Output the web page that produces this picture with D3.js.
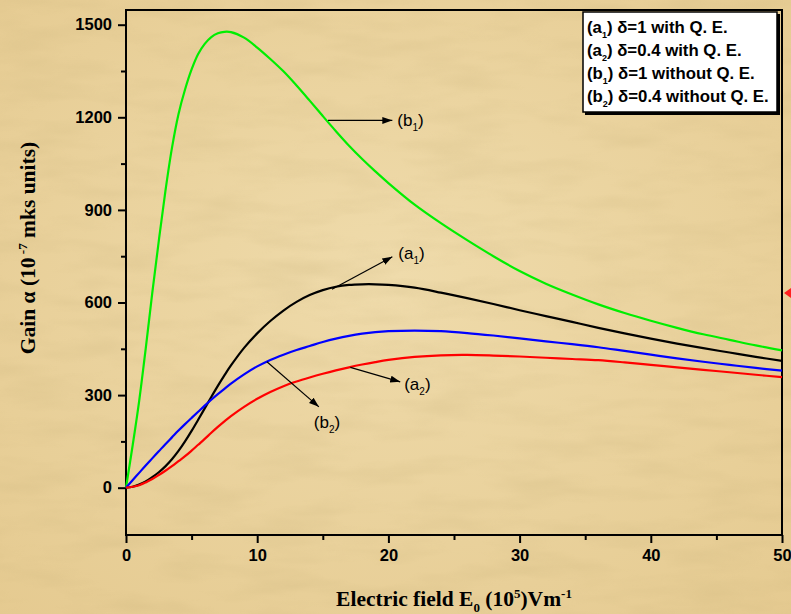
<!DOCTYPE html>
<html>
<head>
<meta charset="utf-8">
<script src="https://cdn.jsdelivr.net/npm/d3@7"></script>
<style>
  html, body { margin: 0; padding: 0; background: #e9d29f; }
  svg { display: block; }
</style>
</head>
<body>
<svg id="chart"></svg>
<script>
// electric field E0 (10^5 V/m)
const fieldValues = [0, 0.5, 1, 1.5, 2, 2.5, 3, 3.5, 4, 4.5, 5, 5.5, 6, 6.5, 7, 7.5, 8, 9, 10, 11, 12, 13, 14, 15, 16, 17, 18, 19, 20, 22, 24, 26, 28, 30, 32, 34, 36, 38, 40, 42, 44, 46, 48, 50];

// gain (10^-7 mks units), one array per curve
const gainA1 = [0, 3, 10, 20, 34, 50, 69, 92, 119, 150, 184, 220, 257, 294, 330, 364, 396, 453, 500, 540, 574, 602, 624, 640, 651, 657, 659, 659, 657, 648, 632, 614, 595, 575, 556, 537, 518, 500, 483, 467, 452, 438, 424, 411];
const gainA2 = [0, 3, 8, 17, 28, 41, 55, 70, 86, 102, 120, 139, 158, 178, 197, 215, 232, 262, 288, 310, 329, 344, 357, 369, 380, 390, 399, 407, 414, 424, 429, 430, 428, 425, 421, 417, 413, 406, 398, 390, 382, 374, 366, 358];
const gainB1 = [0, 135, 280, 450, 630, 800, 960, 1100, 1210, 1290, 1355, 1405, 1438, 1460, 1472, 1477, 1476, 1458, 1426, 1389, 1349, 1303, 1254, 1204, 1155, 1108, 1065, 1025, 987, 917, 857, 802, 750, 702, 661, 626, 594, 566, 541, 518, 497, 479, 461, 445];
const gainB2 = [0, 24, 48, 72, 95, 118, 141, 163, 185, 206, 226, 246, 266, 285, 303, 320, 337, 367, 393, 414, 431, 446, 459, 472, 483, 492, 499, 504, 507, 509, 507, 501, 493, 484, 474, 465, 455, 443, 431, 419, 408, 398, 388, 379];

const xTicks = [0, 10, 20, 30, 40, 50];
const xMinorTicks = [5, 15, 25, 35, 45];
const yTicks = [0, 300, 600, 900, 1200, 1500];
const yMinorTicks = [150, 450, 750, 1050, 1350];

const seriesNames = ['b1', 'a1', 'b2', 'a2'];
const seriesColors = {a1: '#000000', a2: '#ff0000', b1: '#00ee00', b2: '#0000ff'};
const seriesValues = {a1: gainA1, a2: gainA2, b1: gainB1, b2: gainB2};

const legendMains = ['a', 'a', 'b', 'b'];
const legendSubs = ['1', '2', '1', '2'];
const legendTexts = [' \u03b4=1 with Q. E.', ' \u03b4=0.4 with Q. E.', ' \u03b4=1 without Q. E.', ' \u03b4=0.4 without Q. E.'];

// arrow annotations: start point on the curve, end point, label
const annotations = [
    {main: 'b', sub: '1', from: [15.4, 1190], to: [20.3, 1190], dx: 5, dy: 6},
    {main: 'a', sub: '1', from: [15.7, 643], to: [20.3, 748], dx: 6, dy: 2},
    {main: 'a', sub: '2', from: [17.1, 390], to: [20.9, 343], dx: 4, dy: 8},
    {main: 'b', sub: '2', from: [10.74, 408], to: [14.7, 262], dx: -5, dy: 21}
];

const WIDTH = 791;
const HEIGHT = 614;
const FRAME = {left: 126, right: 782, top: 10, bottom: 535};

const x = d3.scaleLinear().domain([0, 50]).range([126, 782]);
const y = d3.scaleLinear().domain([0, 1500]).range([487.7, 24.7]);

const svg = d3.select('#chart')
    .attr('width', WIDTH)
    .attr('height', HEIGHT);

const defs = svg.append('defs');

// parchment-like background
const paper = defs.append('filter')
    .attr('id', 'paper')
    .attr('x', 0).attr('y', 0).attr('width', 1).attr('height', 1);
paper.append('feTurbulence')
    .attr('type', 'fractalNoise')
    .attr('baseFrequency', '0.012 0.05')
    .attr('numOctaves', 3)
    .attr('seed', 7);
paper.append('feColorMatrix')
    .attr('type', 'matrix')
    .attr('values', '0 0 0 0 0.55  0 0 0 0 0.42  0 0 0 0 0.18  1.1 0 0 0 -0.45');

const bgGrad = defs.append('radialGradient')
    .attr('id', 'bgGrad')
    .attr('cx', '50%').attr('cy', '45%').attr('r', '75%');
bgGrad.append('stop').attr('offset', '0%').attr('stop-color', '#efdbab');
bgGrad.append('stop').attr('offset', '100%').attr('stop-color', '#e5ca90');

svg.append('rect')
    .attr('width', WIDTH)
    .attr('height', HEIGHT)
    .attr('fill', 'url(#bgGrad)');

svg.append('rect')
    .attr('width', WIDTH)
    .attr('height', HEIGHT)
    .attr('filter', 'url(#paper)')
    .attr('opacity', 0.35);

defs.append('marker')
    .attr('id', 'arrow')
    .attr('viewBox', '0 0 10 10')
    .attr('refX', 10)
    .attr('refY', 5)
    .attr('markerWidth', 10)
    .attr('markerHeight', 10)
    .attr('markerUnits', 'userSpaceOnUse')
    .attr('orient', 'auto')
    .append('path')
    .attr('d', 'M0,1.5 L10,5 L0,8.5 Z')
    .attr('fill', '#000');

// frame
svg.append('rect')
    .attr('x', FRAME.left)
    .attr('y', FRAME.top)
    .attr('width', FRAME.right - FRAME.left)
    .attr('height', FRAME.bottom - FRAME.top)
    .attr('fill', 'none')
    .attr('stroke', '#000')
    .attr('stroke-width', 2);

// axes
const tickFont = (g) => g.selectAll('text')
    .attr('font-family', 'Arial, "Liberation Sans", sans-serif')
    .attr('font-weight', 'bold')
    .attr('font-size', 16.5)
    .attr('fill', '#000');

const xAxis = svg.append('g')
    .attr('transform', `translate(0, ${FRAME.bottom})`)
    .call(d3.axisBottom(x).tickValues(xTicks).tickFormat(d3.format('d')).tickSize(8).tickPadding(6).tickSizeOuter(0));
xAxis.select('.domain').remove();
xAxis.selectAll('line').attr('stroke-width', 2);
xAxis.call(tickFont);

svg.append('g')
    .attr('transform', `translate(0, ${FRAME.bottom})`)
    .call(d3.axisBottom(x).tickValues(xMinorTicks).tickFormat('').tickSize(5).tickSizeOuter(0))
    .call(g => g.select('.domain').remove())
    .selectAll('line').attr('stroke-width', 2);

const yAxis = svg.append('g')
    .attr('transform', `translate(${FRAME.left}, 0)`)
    .call(d3.axisLeft(y).tickValues(yTicks).tickFormat(d3.format('d')).tickSize(8).tickPadding(6).tickSizeOuter(0));
yAxis.select('.domain').remove();
yAxis.selectAll('line').attr('stroke-width', 2);
yAxis.call(tickFont);

svg.append('g')
    .attr('transform', `translate(${FRAME.left}, 0)`)
    .call(d3.axisLeft(y).tickValues(yMinorTicks).tickFormat('').tickSize(5).tickSizeOuter(0))
    .call(g => g.select('.domain').remove())
    .selectAll('line').attr('stroke-width', 2);

// curves
const line = d3.line()
    .x((d) => x(d[0]))
    .y((d) => y(d[1]))
    .curve(d3.curveCatmullRom.alpha(0.5));

svg.append('g')
    .selectAll('path')
    .data(seriesNames)
    .enter()
    .append('path')
    .attr('d', (name) => line(fieldValues.map((f, i) => [f, seriesValues[name][i]])))
    .attr('fill', 'none')
    .attr('stroke', (name) => seriesColors[name])
    .attr('stroke-width', 2.2);

// annotations
const labelFont = 'Arial, "Liberation Sans", sans-serif';
const notes = svg.append('g');
annotations.forEach((a) => {
    notes.append('line')
        .attr('x1', x(a.from[0]))
        .attr('y1', y(a.from[1]))
        .attr('x2', x(a.to[0]))
        .attr('y2', y(a.to[1]))
        .attr('stroke', '#000')
        .attr('stroke-width', 1.2)
        .attr('marker-end', 'url(#arrow)');

    let t = notes.append('text')
        .attr('x', x(a.to[0]) + a.dx)
        .attr('y', y(a.to[1]) + a.dy)
        .attr('font-family', labelFont)
        .attr('font-size', 17)
        .attr('fill', '#000');
    t.append('tspan').text('(' + a.main);
    t.append('tspan').attr('font-size', 10).attr('dy', 5).text(a.sub);
    t.append('tspan').attr('dy', -5).text(')');
});

// stray red arrow head at the right edge
svg.append('path')
    .attr('d', `M${WIDTH - 7},293 L${WIDTH},288 L${WIDTH},298 Z`)
    .attr('fill', '#ff2020');

// legend
const legend = svg.append('g').attr('transform', 'translate(583, 12)');
legend.append('rect')
    .attr('x', 2).attr('y', 2)
    .attr('width', 195).attr('height', 101)
    .attr('fill', '#000');
legend.append('rect')
    .attr('width', 194).attr('height', 100)
    .attr('fill', '#fff')
    .attr('stroke', '#000')
    .attr('stroke-width', 1.5);

legendTexts.forEach((txt, i) => {
    let t = legend.append('text')
        .attr('x', 4)
        .attr('y', 21 + i * 23)
        .attr('font-family', labelFont)
        .attr('font-weight', 'bold')
        .attr('font-size', 16.8)
        .attr('fill', '#000');
    t.append('tspan').text('(' + legendMains[i]);
    t.append('tspan').attr('font-size', 9).attr('dy', 5).text(legendSubs[i]);
    t.append('tspan').attr('dy', -5).text(')' + txt);
});

// axis titles
const titleFont = '"Times New Roman", "Liberation Serif", serif';

let xTitle = svg.append('text')
    .attr('x', 454)
    .attr('y', 606)
    .attr('text-anchor', 'middle')
    .attr('font-family', titleFont)
    .attr('font-weight', 'bold')
    .attr('font-size', 21.5)
    .attr('fill', '#000');
xTitle.append('tspan').text('Electric field E');
xTitle.append('tspan').attr('font-size', 13).attr('dy', 6).text('0');
xTitle.append('tspan').attr('dy', -6).text(' (10');
xTitle.append('tspan').attr('font-size', 13).attr('dy', -8).text('5');
xTitle.append('tspan').attr('dy', 8).text(')Vm');
xTitle.append('tspan').attr('font-size', 13).attr('dy', -8).text('-1');

let yTitle = svg.append('text')
    .attr('transform', 'translate(35, 248) rotate(-90)')
    .attr('text-anchor', 'middle')
    .attr('font-family', titleFont)
    .attr('font-weight', 'bold')
    .attr('font-size', 21.5)
    .attr('fill', '#000');
yTitle.append('tspan').text('Gain \u03b1 (10');
yTitle.append('tspan').attr('font-size', 13).attr('dy', -8).text(' -7');
yTitle.append('tspan').attr('dy', 8).text(' mks units)');
</script>
</body>
</html>
